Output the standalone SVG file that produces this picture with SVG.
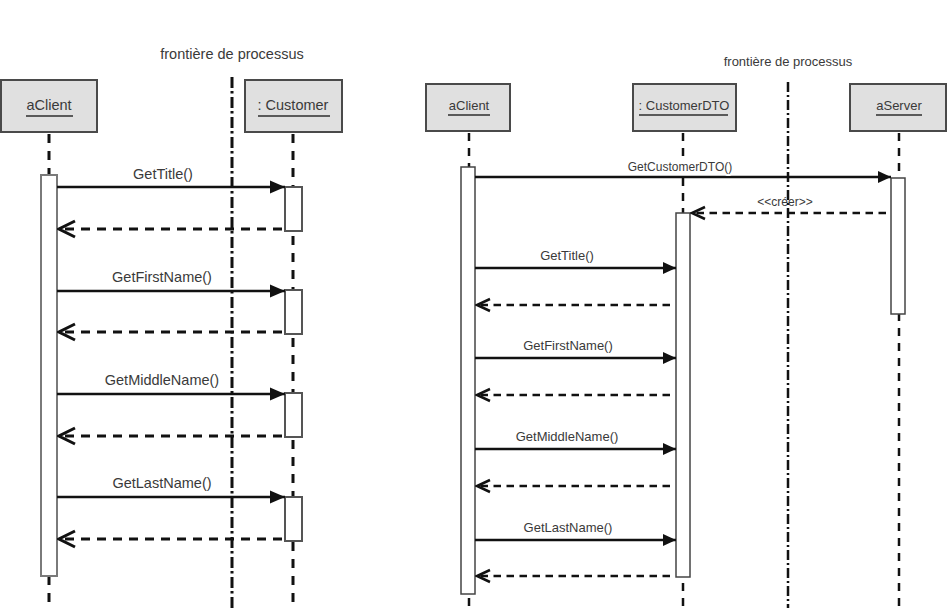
<svg xmlns="http://www.w3.org/2000/svg" width="948" height="608" viewBox="0 0 948 608">
<style>
  text { font-family: "Liberation Sans", Arial, Helvetica, sans-serif; fill: #3a3a3a; }
  .lbl { font-size: 14.5px; text-anchor: middle; }
  .lblR { font-size: 13px; text-anchor: middle; }
  .halo { paint-order: stroke; stroke: #fff; stroke-width: 4px; stroke-linejoin: round; }
  .box { fill: #e0e0e0; stroke: #4a4a4a; stroke-width: 2; }
  .ul { stroke: #5a5a5a; stroke-width: 2; }
  .life { stroke: #111; stroke-width: 3; stroke-dasharray: 9 8; fill: none; }
  .lifeR { stroke: #111; stroke-width: 2.5; stroke-dasharray: 8 7; fill: none; }
  .bound { stroke: #111; stroke-width: 3; stroke-dasharray: 11 3 2.5 3.5; fill: none; }
  .boundR { stroke: #111; stroke-width: 2.5; stroke-dasharray: 10 3 2 3; fill: none; }
  .bar { fill: #fff; stroke: #7a7a7a; stroke-width: 2; }
  .barR { fill: #fff; stroke: #444; stroke-width: 1.5; }
  .call { stroke: #111; stroke-width: 2.5; fill: none; }
  .ret { stroke: #111; stroke-width: 3; stroke-dasharray: 9 7; fill: none; }
  .retR { stroke: #111; stroke-width: 2.5; stroke-dasharray: 7.5 5.5; fill: none; }
</style>
<defs>
  <marker id="fill" markerUnits="userSpaceOnUse" markerWidth="16" markerHeight="14" refX="15" refY="7" orient="auto" viewBox="0 0 16 14">
    <path d="M0,0.5 L15,7 L0,13.5 z" fill="#111"/>
  </marker>
  <marker id="fillR" markerUnits="userSpaceOnUse" markerWidth="14" markerHeight="12" refX="13" refY="6" orient="auto" viewBox="0 0 14 12">
    <path d="M0,0 L13,6 L0,12 z" fill="#111"/>
  </marker>
  <marker id="open" markerUnits="userSpaceOnUse" markerWidth="20" markerHeight="20" refX="18" refY="10" orient="auto" viewBox="0 0 20 20">
    <path d="M2,2 L18,10 L2,18" fill="none" stroke="#111" stroke-width="3" stroke-dasharray="none"/>
  </marker>
  <marker id="openR" markerUnits="userSpaceOnUse" markerWidth="18" markerHeight="18" refX="16" refY="9" orient="auto" viewBox="0 0 18 18">
    <path d="M3,3 L16,9 L3,15" fill="none" stroke="#111" stroke-width="2.5" stroke-dasharray="none"/>
  </marker>
</defs>
<rect width="948" height="608" fill="#fff"/>

<!-- LEFT DIAGRAM -->
<g id="left-boundary">
  <line class="bound" x1="232" y1="77" x2="232" y2="608"/>
  <text class="lbl" x="232" y="59">frontière de processus</text>
</g>
<g id="left-lifelines">
  <line class="life" x1="49" y1="134" x2="49" y2="608"/>
  <line class="life" x1="293" y1="134" x2="293" y2="608"/>
</g>
<g id="left-aClient">
  <rect class="box" x="1" y="80" width="96" height="52"/>
  <text class="lbl" x="49" y="110">aClient</text>
  <line class="ul" x1="26" y1="116" x2="73" y2="116"/>
  <rect class="bar" x="41" y="175" width="16" height="401"/>
</g>
<g id="left-customer">
  <rect class="box" x="245" y="80" width="97" height="52"/>
  <text class="lbl" x="293" y="110">: Customer</text>
  <line class="ul" x1="258" y1="116" x2="330" y2="116"/>
  <rect class="bar" x="285" y="187" width="17" height="44" style="stroke:#555"/>
  <rect class="bar" x="285" y="290" width="17" height="44" style="stroke:#555"/>
  <rect class="bar" x="285" y="393" width="17" height="44" style="stroke:#555"/>
  <rect class="bar" x="285" y="497" width="17" height="44" style="stroke:#555"/>
</g>
<g id="left-connectors">
  <line class="call" x1="57" y1="187" x2="285" y2="187" marker-end="url(#fill)"/>
  <text class="lbl" x="163" y="179">GetTitle()</text>
  <line class="ret" x1="282" y1="229" x2="59" y2="229" marker-end="url(#open)"/>
  <line class="call" x1="57" y1="291" x2="285" y2="291" marker-end="url(#fill)"/>
  <text class="lbl" x="162" y="282">GetFirstName()</text>
  <line class="ret" x1="282" y1="332" x2="59" y2="332" marker-end="url(#open)"/>
  <line class="call" x1="57" y1="394" x2="285" y2="394" marker-end="url(#fill)"/>
  <text class="lbl" x="162" y="385">GetMiddleName()</text>
  <line class="ret" x1="282" y1="436" x2="59" y2="436" marker-end="url(#open)"/>
  <line class="call" x1="57" y1="497" x2="285" y2="497" marker-end="url(#fill)"/>
  <text class="lbl" x="162" y="488">GetLastName()</text>
  <line class="ret" x1="282" y1="539" x2="59" y2="539" marker-end="url(#open)"/>
</g>

<!-- RIGHT DIAGRAM -->
<g id="right-boundary">
  <line class="boundR" x1="788" y1="82" x2="788" y2="608"/>
  <text class="lblR" x="788" y="66">frontière de processus</text>
</g>
<g id="right-lifelines">
  <line class="lifeR" x1="469" y1="133" x2="469" y2="608"/>
  <line class="lifeR" x1="683" y1="133" x2="683" y2="608"/>
  <line class="lifeR" x1="899" y1="133" x2="899" y2="608"/>
</g>
<g id="right-aClient">
  <rect class="box" x="426" y="84" width="84" height="47"/>
  <text class="lblR" x="469" y="110">aClient</text>
  <line class="ul" x1="448" y1="115" x2="490" y2="115"/>
  <rect class="barR" x="461" y="167" width="14" height="427"/>
</g>
<g id="right-customerDTO">
  <rect class="box" x="633" y="84" width="103" height="47"/>
  <text class="lblR" x="684" y="110">: CustomerDTO</text>
  <line class="ul" x1="639" y1="115" x2="728" y2="115"/>
  <rect class="barR" x="676" y="213" width="14" height="364"/>
</g>
<g id="right-aServer">
  <rect class="box" x="850" y="84" width="96" height="47"/>
  <text class="lblR" x="899" y="110">aServer</text>
  <line class="ul" x1="876" y1="115" x2="922" y2="115"/>
  <rect class="barR" x="891" y="178" width="14" height="136"/>
</g>
<g id="right-connectors">
  <line class="call" x1="475" y1="177" x2="891" y2="177" marker-end="url(#fillR)"/>
  <text class="lblR halo" x="680" y="171" style="font-size:12px">GetCustomerDTO()</text>
  <line class="retR" x1="886" y1="213" x2="692" y2="213" marker-end="url(#openR)"/>
  <text class="lblR" x="785" y="206" style="font-size:12px">&lt;&lt;créer&gt;&gt;</text>
  <line class="call" x1="475" y1="268" x2="676" y2="268" marker-end="url(#fillR)"/>
  <text class="lblR" x="567" y="260">GetTitle()</text>
  <line class="retR" x1="670" y1="305" x2="477" y2="305" marker-end="url(#openR)"/>
  <line class="call" x1="475" y1="358" x2="676" y2="358" marker-end="url(#fillR)"/>
  <text class="lblR" x="568" y="350">GetFirstName()</text>
  <line class="retR" x1="670" y1="395" x2="477" y2="395" marker-end="url(#openR)"/>
  <line class="call" x1="475" y1="449" x2="676" y2="449" marker-end="url(#fillR)"/>
  <text class="lblR" x="567" y="441">GetMiddleName()</text>
  <line class="retR" x1="670" y1="486" x2="477" y2="486" marker-end="url(#openR)"/>
  <line class="call" x1="475" y1="540" x2="676" y2="540" marker-end="url(#fillR)"/>
  <text class="lblR" x="568" y="532">GetLastName()</text>
  <line class="retR" x1="670" y1="576" x2="477" y2="576" marker-end="url(#openR)"/>
</g>
</svg>
